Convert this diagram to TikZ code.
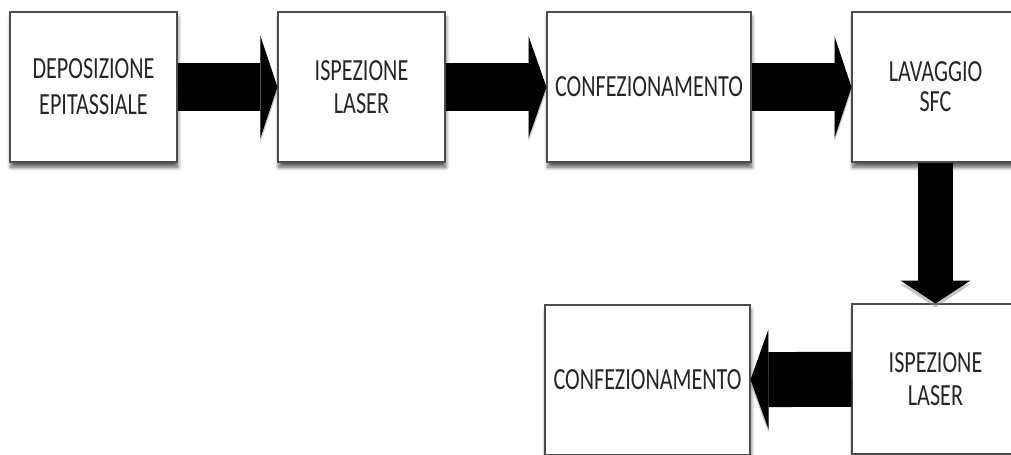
\documentclass[tikz,border=0pt]{standalone}
\usepackage{fontspec}
\setmainfont[FakeStretch=0.72]{Carlito}
\usetikzlibrary{arrows.meta,shadows.blur}

\tikzset{
	box/.style={draw=black!70, fill=white, line width=0.6pt, minimum height=3cm, align=center,
		font=\fontsize{17.5}{17}\selectfont, text=black!85,
		blur shadow={shadow xshift=0.5pt, shadow yshift=-3pt, shadow blur steps=6, shadow blur radius=2.2pt, shadow opacity=65}},
	flow/.style n args={3}{draw=black, line width=#1,
		-{Triangle[length=#3, width=#2, line width=0pt]},
		preaction={draw=black!45, opacity=0.5, transform canvas={yshift=-2.2pt}}}
}

\begin{document}
\begin{tikzpicture}[x=0.02cm, y=-0.02cm]
	\useasboundingbox (0, 0) rectangle (1011, 454);
	\clip (0, 0) rectangle (1011, 454);
	
	% top row
	\node[box, minimum width=3.34cm] (depo) at (93.5, 87) {DEPOSIZIONE\\[3.4pt]EPITASSIALE};
	\node[box, minimum width=3.34cm] (insp) at (361.5, 87) {ISPEZIONE\\[2pt]LASER};
	\node[box, minimum width=4.08cm] (conf) at (649, 87) {CONFEZIONAMENTO};
	\node[box, minimum width=3.34cm] (lava) at (935.5, 87) {LAVAGGIO\\SFC};
	
	% bottom row
	\node[box, minimum width=3.34cm] (insp2) at (935.5, 379) {ISPEZIONE\\[2pt]LASER};
	\node[box, minimum width=4.1cm] (conf2) at (647.5, 380) {CONFEZIONAMENTO};
	
	\draw[flow={0.96cm}{2.04cm}{0.34cm}] (depo) -- (insp);
	\draw[flow={0.96cm}{2.04cm}{0.36cm}] (insp) -- (conf);
	\draw[flow={0.96cm}{2.04cm}{0.34cm}] (conf) -- (lava);
	\draw[flow={0.7cm}{1.4cm}{0.46cm}] (lava) -- (insp2);
	\draw[flow={1.1cm}{2cm}{0.36cm}] (insp2) -- (conf2);
\end{tikzpicture}
\end{document}
